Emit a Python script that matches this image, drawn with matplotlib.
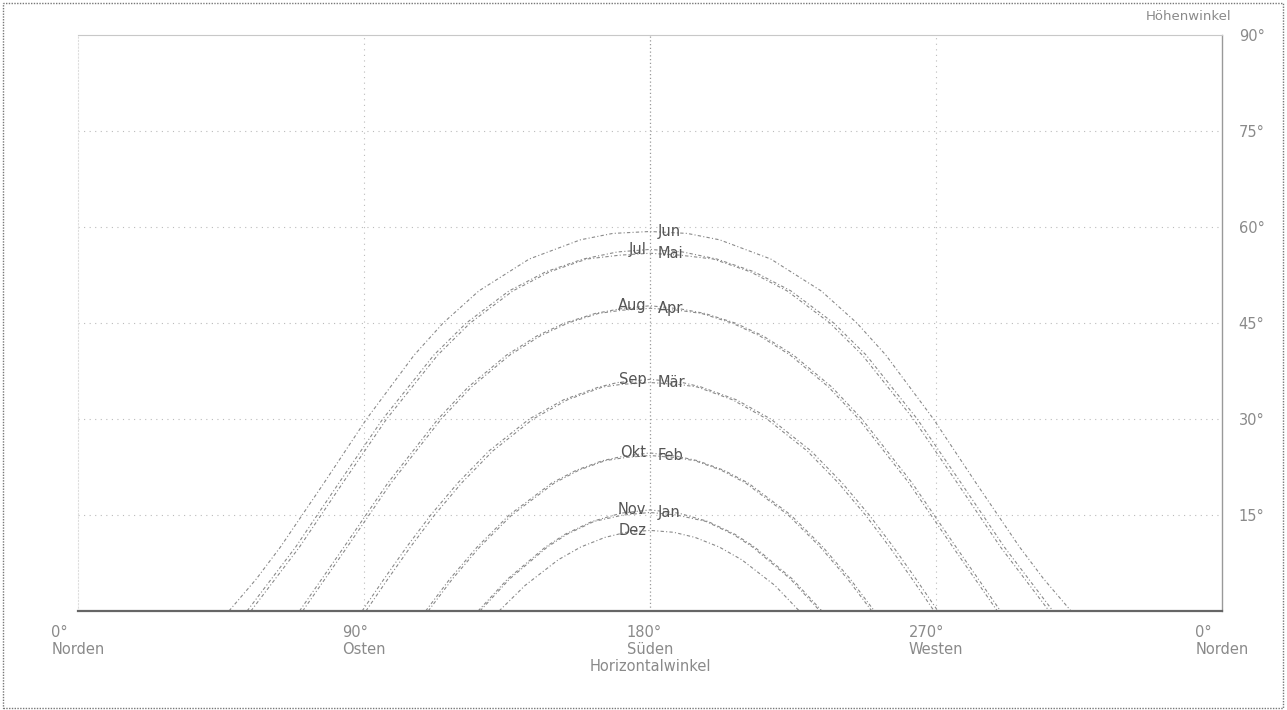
import matplotlib
matplotlib.use("Agg")
import matplotlib.pyplot as plt
from matplotlib.patches import Rectangle

# sun path readings: azimuth (deg from north) and altitude (deg)
jun_az = [47.5, 56.1, 63.7, 77.4, 90.8, 105.8, 114.9, 126.1, 142.0, 158.1, 168.3, 180.0,
          191.7, 201.9, 218.0, 233.9, 245.1, 254.2, 269.2, 282.6, 296.3, 303.9, 312.5]
jun_alt = [0, 5, 10, 20, 30, 40, 45, 50, 55, 58, 59, 59.3, 59, 58, 55, 50, 45, 40, 30, 20, 10, 5, 0]

jul_az = [53.2, 68.5, 82.1, 95.9, 112.0, 122.2, 135.6, 147.2, 159.0, 169.7, 180,
          190.3, 201.0, 212.8, 224.4, 237.8, 248.0, 264.1, 277.9, 291.5, 306.8]
jul_alt = [0, 10, 20, 30, 40, 45, 50, 53, 55, 56.1, 56.5, 56.1, 55, 53, 50, 45, 40, 30, 20, 10, 0]

mai_az = [54.4, 69.7, 83.3, 97.1, 113.2, 123.4, 136.8, 148.4, 160.1, 170.5, 180,
          189.5, 199.9, 211.6, 223.2, 236.6, 246.8, 262.9, 276.7, 290.3, 305.6]
mai_alt = [0, 10, 20, 30, 40, 45, 50, 53, 55, 55.6, 55.9, 55.6, 55, 53, 50, 45, 40, 30, 20, 10, 0]

aug_az = [69.7, 83.7, 97.5, 113.3, 122.8, 134.9, 144.5, 153.2, 162.8, 170.4, 180,
          189.6, 197.2, 206.8, 215.5, 225.1, 237.2, 246.7, 262.5, 276.3, 290.3]
aug_alt = [0, 10, 20, 30, 35, 40, 43, 45, 46.5, 47.2, 47.7, 47.2, 46.5, 45, 43, 40, 35, 30, 20, 10, 0]

apr_az = [70.7, 84.7, 98.5, 114.3, 123.8, 135.9, 145.5, 154.2, 163.8, 171.2, 180,
          188.8, 196.2, 205.8, 214.5, 224.1, 236.2, 245.7, 261.5, 275.3, 289.3]
apr_alt = [0, 10, 20, 30, 35, 40, 43, 45, 46.5, 47.0, 47.3, 47.0, 46.5, 45, 43, 40, 35, 30, 20, 10, 0]

sep_az = [89.4, 96.3, 103.4, 111.0, 119.5, 129.3, 142.0, 152.8, 163.9, 169.8, 180,
          190.2, 196.1, 207.2, 218.0, 230.7, 240.5, 249.0, 256.6, 263.7, 270.6]
sep_alt = [0, 5, 10, 15, 20, 25, 30, 33, 35, 35.7, 36.2, 35.7, 35, 33, 30, 25, 20, 15, 10, 5, 0]

mar_az = [90.6, 97.5, 104.6, 112.2, 120.7, 130.5, 143.2, 154.0, 165.1, 170.8, 180,
          189.2, 194.9, 206.0, 216.8, 229.5, 239.3, 247.8, 255.4, 262.5, 269.4]
mar_alt = [0, 5, 10, 15, 20, 25, 30, 33, 35, 35.4, 35.7, 35.4, 35, 33, 30, 25, 20, 15, 10, 5, 0]

okt_az = [109.4, 117.0, 125.6, 135.7, 149.1, 156.8, 165.1, 171.7, 180,
          188.3, 194.9, 203.2, 210.9, 224.3, 234.4, 243.0, 250.6]
okt_alt = [0, 5, 10, 15, 20, 22, 23.5, 24.2, 24.7, 24.2, 23.5, 22, 20, 15, 10, 5, 0]

feb_az = [110.2, 117.8, 126.4, 136.5, 149.9, 157.6, 165.9, 172.5, 180,
          187.5, 194.1, 202.4, 210.1, 223.5, 233.6, 242.2, 249.8]
feb_alt = [0, 5, 10, 15, 20, 22, 23.5, 24.0, 24.3, 24.0, 23.5, 22, 20, 15, 10, 5, 0]

nov_az = [125.9, 135.2, 147.1, 153.3, 161.8, 171.0, 180, 189.0, 198.2, 206.7, 212.9, 224.8, 234.1]
nov_alt = [0, 5, 10, 12, 14, 15.3, 15.8, 15.3, 14, 12, 10, 5, 0]

jan_az = [126.5, 135.8, 147.7, 153.9, 162.4, 171.6, 180, 188.4, 197.6, 206.1, 212.3, 224.2, 233.5]
jan_alt = [0, 5, 10, 12, 14, 15.0, 15.4, 15.0, 14, 12, 10, 5, 0]

dez_az = [132.5, 140.7, 151.1, 158.2, 165.8, 172.5, 180, 187.5, 194.2, 201.8, 208.9, 219.3, 227.0]
dez_alt = [0, 4, 8, 10, 11.5, 12.3, 12.6, 12.3, 11.5, 10, 8, 4, 0]

# month name, path, label side
curves = [
    ("Jun", jun_az, jun_alt, "right"),
    ("Jul", jul_az, jul_alt, "left"),
    ("Mai", mai_az, mai_alt, "right"),
    ("Aug", aug_az, aug_alt, "left"),
    ("Apr", apr_az, apr_alt, "right"),
    ("Sep", sep_az, sep_alt, "left"),
    ("Mär", mar_az, mar_alt, "right"),
    ("Okt", okt_az, okt_alt, "left"),
    ("Feb", feb_az, feb_alt, "right"),
    ("Nov", nov_az, nov_alt, "left"),
    ("Jan", jan_az, jan_alt, "right"),
    ("Dez", dez_az, dez_alt, "left"),
]

x_ticks = [0, 90, 180, 270, 360]
x_labels = ["0°\nNorden", "90°\nOsten", "180°\nSüden", "270°\nWesten", "0°\nNorden"]
y_ticks = [15, 30, 45, 60, 75, 90]
y_labels = ["15°", "30°", "45°", "60°", "75°", "90°"]

fig = plt.figure(figsize=(12.87, 7.10), dpi=100)
ax = fig.add_axes([0.0606, 0.1394, 0.8889, 0.8113])
ax.set_xlim(0, 360)
ax.set_ylim(0, 90)

# grid
for y in [15, 30, 45, 60, 75]:
    ax.axhline(y, color="#bbbbbb", lw=0.8, ls=(0, (1, 4)), zorder=1)
for x in [90, 270]:
    ax.axvline(x, color="#bbbbbb", lw=0.8, ls=(0, (1, 4)), zorder=1)
ax.axvline(180, color="#999999", lw=0.9, ls=(0, (1, 2)), zorder=1)

for name, az, alt, side in curves:
    ax.plot(az, alt, color="#8a8a8a", lw=0.8, ls=(0, (3, 2, 1, 2)), zorder=2)
    peak = max(alt)
    if side == "left":
        ax.text(178.8, peak, name, ha="right", va="center", fontsize=10.5, color="#555555", zorder=3)
    else:
        ax.text(182.5, peak, name, ha="left", va="center", fontsize=10.5, color="#555555", zorder=3)

# frame
ax.spines["bottom"].set_color("#666666")
ax.spines["bottom"].set_linewidth(1.6)
ax.spines["right"].set_color("#999999")
ax.spines["right"].set_linewidth(1.0)
ax.spines["top"].set_color("#c8c8c8")
ax.spines["top"].set_linestyle((0, (2, 1)))
ax.spines["left"].set_color("#dddddd")
ax.spines["left"].set_linestyle((0, (1, 2)))

ax.set_xticks(x_ticks)
ax.set_xticklabels(x_labels, ha="center", multialignment="left", fontsize=10.5, color="#8a8a8a")
ax.tick_params(axis="x", length=0, pad=10)

ax.yaxis.tick_right()
ax.set_yticks(y_ticks)
ax.set_yticklabels(y_labels, fontsize=10.5, color="#8a8a8a")
ax.tick_params(axis="y", length=0, pad=12)

ax.set_xlabel("Horizontalwinkel", fontsize=10.5, color="#8a8a8a", labelpad=1)
fig.text(1231 / 1287, 1 - 17 / 710, "Höhenwinkel", ha="right", va="center",
         fontsize=9.5, color="#8a8a8a")

fig.patches.append(Rectangle((0.002, 0.003), 0.995, 0.993, transform=fig.transFigure,
                             fill=False, ec="#777777", lw=1, ls=(0, (1, 1))))

fig.savefig("out.png", dpi=100)
